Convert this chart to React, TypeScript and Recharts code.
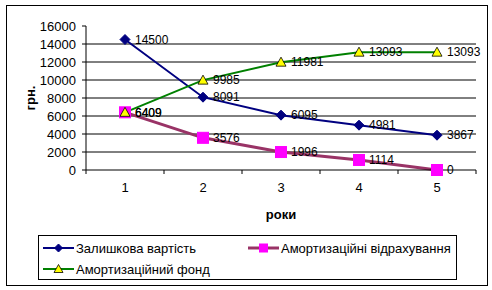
import React from "react";
import {
  LineChart,
  Line,
  XAxis,
  YAxis,
  CartesianGrid,
  Legend,
  LabelList,
} from "recharts";

const years = [1, 2, 3, 4, 5];
const residualValue = [14500, 8091, 6095, 4981, 3867];
const depreciation = [6409, 3576, 1996, 1114, 0];
const depreciationFund = [6409, 9985, 11981, 13093, 13093];

const yTicks = [0, 2000, 4000, 6000, 8000, 10000, 12000, 14000, 16000];
const gridValues = [2000, 4000, 6000, 8000, 10000, 12000, 14000];
const xTicks = [0.5, 1, 1.5, 2, 2.5, 3, 3.5, 4, 4.5, 5, 5.5];

const seriesNames = [
  "Залишкова вартість",
  "Амортизаційні відрахування",
  "Амортизаційний фонд",
];
const xTitle = "роки";
const yTitle = "грн.";

const data = years.map((y, i) => ({
  year: y,
  residual: residualValue[i],
  deduction: depreciation[i],
  fund: depreciationFund[i],
}));

const FONT = "'Liberation Sans', Arial, sans-serif";
const NAVY = "#000080";
const PURPLE = "#993366";
const MAGENTA = "#FF00FF";
const GREEN = "#008000";
const YELLOW = "#FFFF00";

const X_TICK_SIZE = 4;
const X_TICK_MARGIN = 9;

const Diamond = ({ cx, cy, size = 5 }: any) => (
  <polygon
    points={`${cx},${cy - size} ${cx + size},${cy} ${cx},${cy + size} ${cx - size},${cy}`}
    fill={NAVY}
    stroke={NAVY}
    strokeWidth={1}
  />
);
const Square = ({ cx, cy, size = 5.5 }: any) => (
  <rect x={cx - size} y={cy - size} width={size * 2} height={size * 2} fill={MAGENTA} stroke={MAGENTA} />
);
const Triangle = ({ cx, cy, size = 5 }: any) => (
  <polygon
    points={`${cx},${cy - size} ${cx + size},${cy + size - 1} ${cx - size},${cy + size - 1}`}
    fill={YELLOW}
    stroke="#000000"
    strokeWidth={0.8}
  />
);

const renderXTick = (props: any) => {
  const { x, y, payload } = props;
  const v = payload.value;
  if (Math.abs(v - Math.round(v)) > 0.01) {
    const top = y - X_TICK_SIZE - X_TICK_MARGIN;
    return (
      <line x1={x} x2={x} y1={top} y2={top + X_TICK_SIZE} stroke="#000" strokeWidth={1} />
    );
  }
  return (
    <text x={x} y={y} dy="0.71em" textAnchor="middle" fontSize={13} fontFamily={FONT} fill="#000">
      {v}
    </text>
  );
};

const legendItems = [
  { name: seriesNames[0], color: NAVY, marker: "diamond", left: 4, top: 4, width: 2 },
  { name: seriesNames[1], color: PURPLE, marker: "square", left: 209, top: 4, width: 3 },
  { name: seriesNames[2], color: GREEN, marker: "triangle", left: 4, top: 25, width: 2 },
];

const renderLegend = () => (
  <div
    style={{
      position: "relative",
      width: 419,
      height: 45,
      border: "1px solid #000",
      boxSizing: "border-box",
      background: "#fff",
      fontFamily: FONT,
      fontSize: 13,
    }}
  >
    {legendItems.map((it) => (
      <div
        key={it.name}
        style={{
          position: "absolute",
          left: it.left,
          top: it.top,
          display: "flex",
          alignItems: "center",
          height: 16,
          whiteSpace: "nowrap",
        }}
      >
        <svg width={31} height={14} style={{ display: "block" }}>
          <line x1={0} x2={31} y1={7} y2={7} stroke={it.color} strokeWidth={it.width} />
          {it.marker === "diamond" && <Diamond cx={15.5} cy={7} size={4} />}
          {it.marker === "square" && <Square cx={15.5} cy={7} size={4} />}
          {it.marker === "triangle" && <Triangle cx={15.5} cy={7} size={4.5} />}
        </svg>
        <span style={{ marginLeft: 2, color: "#000" }}>{it.name}</span>
      </div>
    ))}
  </div>
);

export default function App() {
  return (
    <div style={{ position: "absolute", left: 0, top: 0, width: 492, height: 290, background: "#fff" }}>
      <div
        style={{
          position: "absolute",
          left: 6,
          top: 5,
          width: 482,
          height: 281,
          border: "1px solid #000",
          boxSizing: "border-box",
        }}
      />
      <div style={{ position: "absolute", left: 0, top: 0 }}>
        <LineChart
          width={492}
          height={290}
          data={data}
          margin={{ top: 26, right: 16, bottom: 71, left: 0 }}
        >
          <CartesianGrid
            vertical={false}
            horizontalValues={gridValues}
            stroke="#000"
            strokeWidth={1}
          />
          <XAxis
            dataKey="year"
            type="number"
            domain={[0.5, 5.5]}
            ticks={xTicks}
            interval={0}
            allowDecimals
            tickLine={false}
            tickSize={X_TICK_SIZE}
            tickMargin={X_TICK_MARGIN}
            height={49}
            axisLine={{ stroke: "#000", strokeWidth: 1 }}
            tick={renderXTick}
            label={{
              value: xTitle,
              position: "insideBottom",
              offset: 0,
              style: { fontFamily: FONT, fontSize: 13, fontWeight: "bold", fill: "#000" },
            }}
          />
          <YAxis
            type="number"
            domain={[0, 16000]}
            ticks={yTicks}
            interval={0}
            width={86}
            tickSize={4}
            tickMargin={6}
            tickLine={{ stroke: "#000" }}
            axisLine={{ stroke: "#000", strokeWidth: 1 }}
            tick={{ fontFamily: FONT, fontSize: 13, fill: "#000" }}
            label={{
              value: yTitle,
              angle: -90,
              position: "center",
              dx: -13,
              style: { fontFamily: FONT, fontSize: 13, fontWeight: "bold", fill: "#000" },
            }}
          />
          <Legend
            layout="horizontal"
            verticalAlign="middle"
            align="center"
            content={renderLegend}
            wrapperStyle={{ position: "absolute", left: 38, top: 235, width: 419, height: 45 }}
          />
          <Line
            name={seriesNames[0]}
            dataKey="residual"
            stroke={NAVY}
            strokeWidth={2}
            isAnimationActive={false}
            dot={(p: any) => <Diamond key={`d${p.index}`} cx={p.cx} cy={p.cy} />}
            activeDot={false}
          >
            <LabelList dataKey="residual" position="right" offset={10} fontSize={12} fontFamily={FONT} fill="#000" />
          </Line>
          <Line
            name={seriesNames[1]}
            dataKey="deduction"
            stroke={PURPLE}
            strokeWidth={3}
            isAnimationActive={false}
            dot={(p: any) => <Square key={`s${p.index}`} cx={p.cx} cy={p.cy} />}
            activeDot={false}
          >
            <LabelList dataKey="deduction" position="right" offset={10} fontSize={12} fontFamily={FONT} fill="#000" />
          </Line>
          <Line
            name={seriesNames[2]}
            dataKey="fund"
            stroke={GREEN}
            strokeWidth={2}
            isAnimationActive={false}
            dot={(p: any) => <Triangle key={`t${p.index}`} cx={p.cx} cy={p.cy} />}
            activeDot={false}
          >
            <LabelList dataKey="fund" position="right" offset={10} fontSize={12} fontFamily={FONT} fill="#000" />
          </Line>
        </LineChart>
      </div>
    </div>
  );
}
